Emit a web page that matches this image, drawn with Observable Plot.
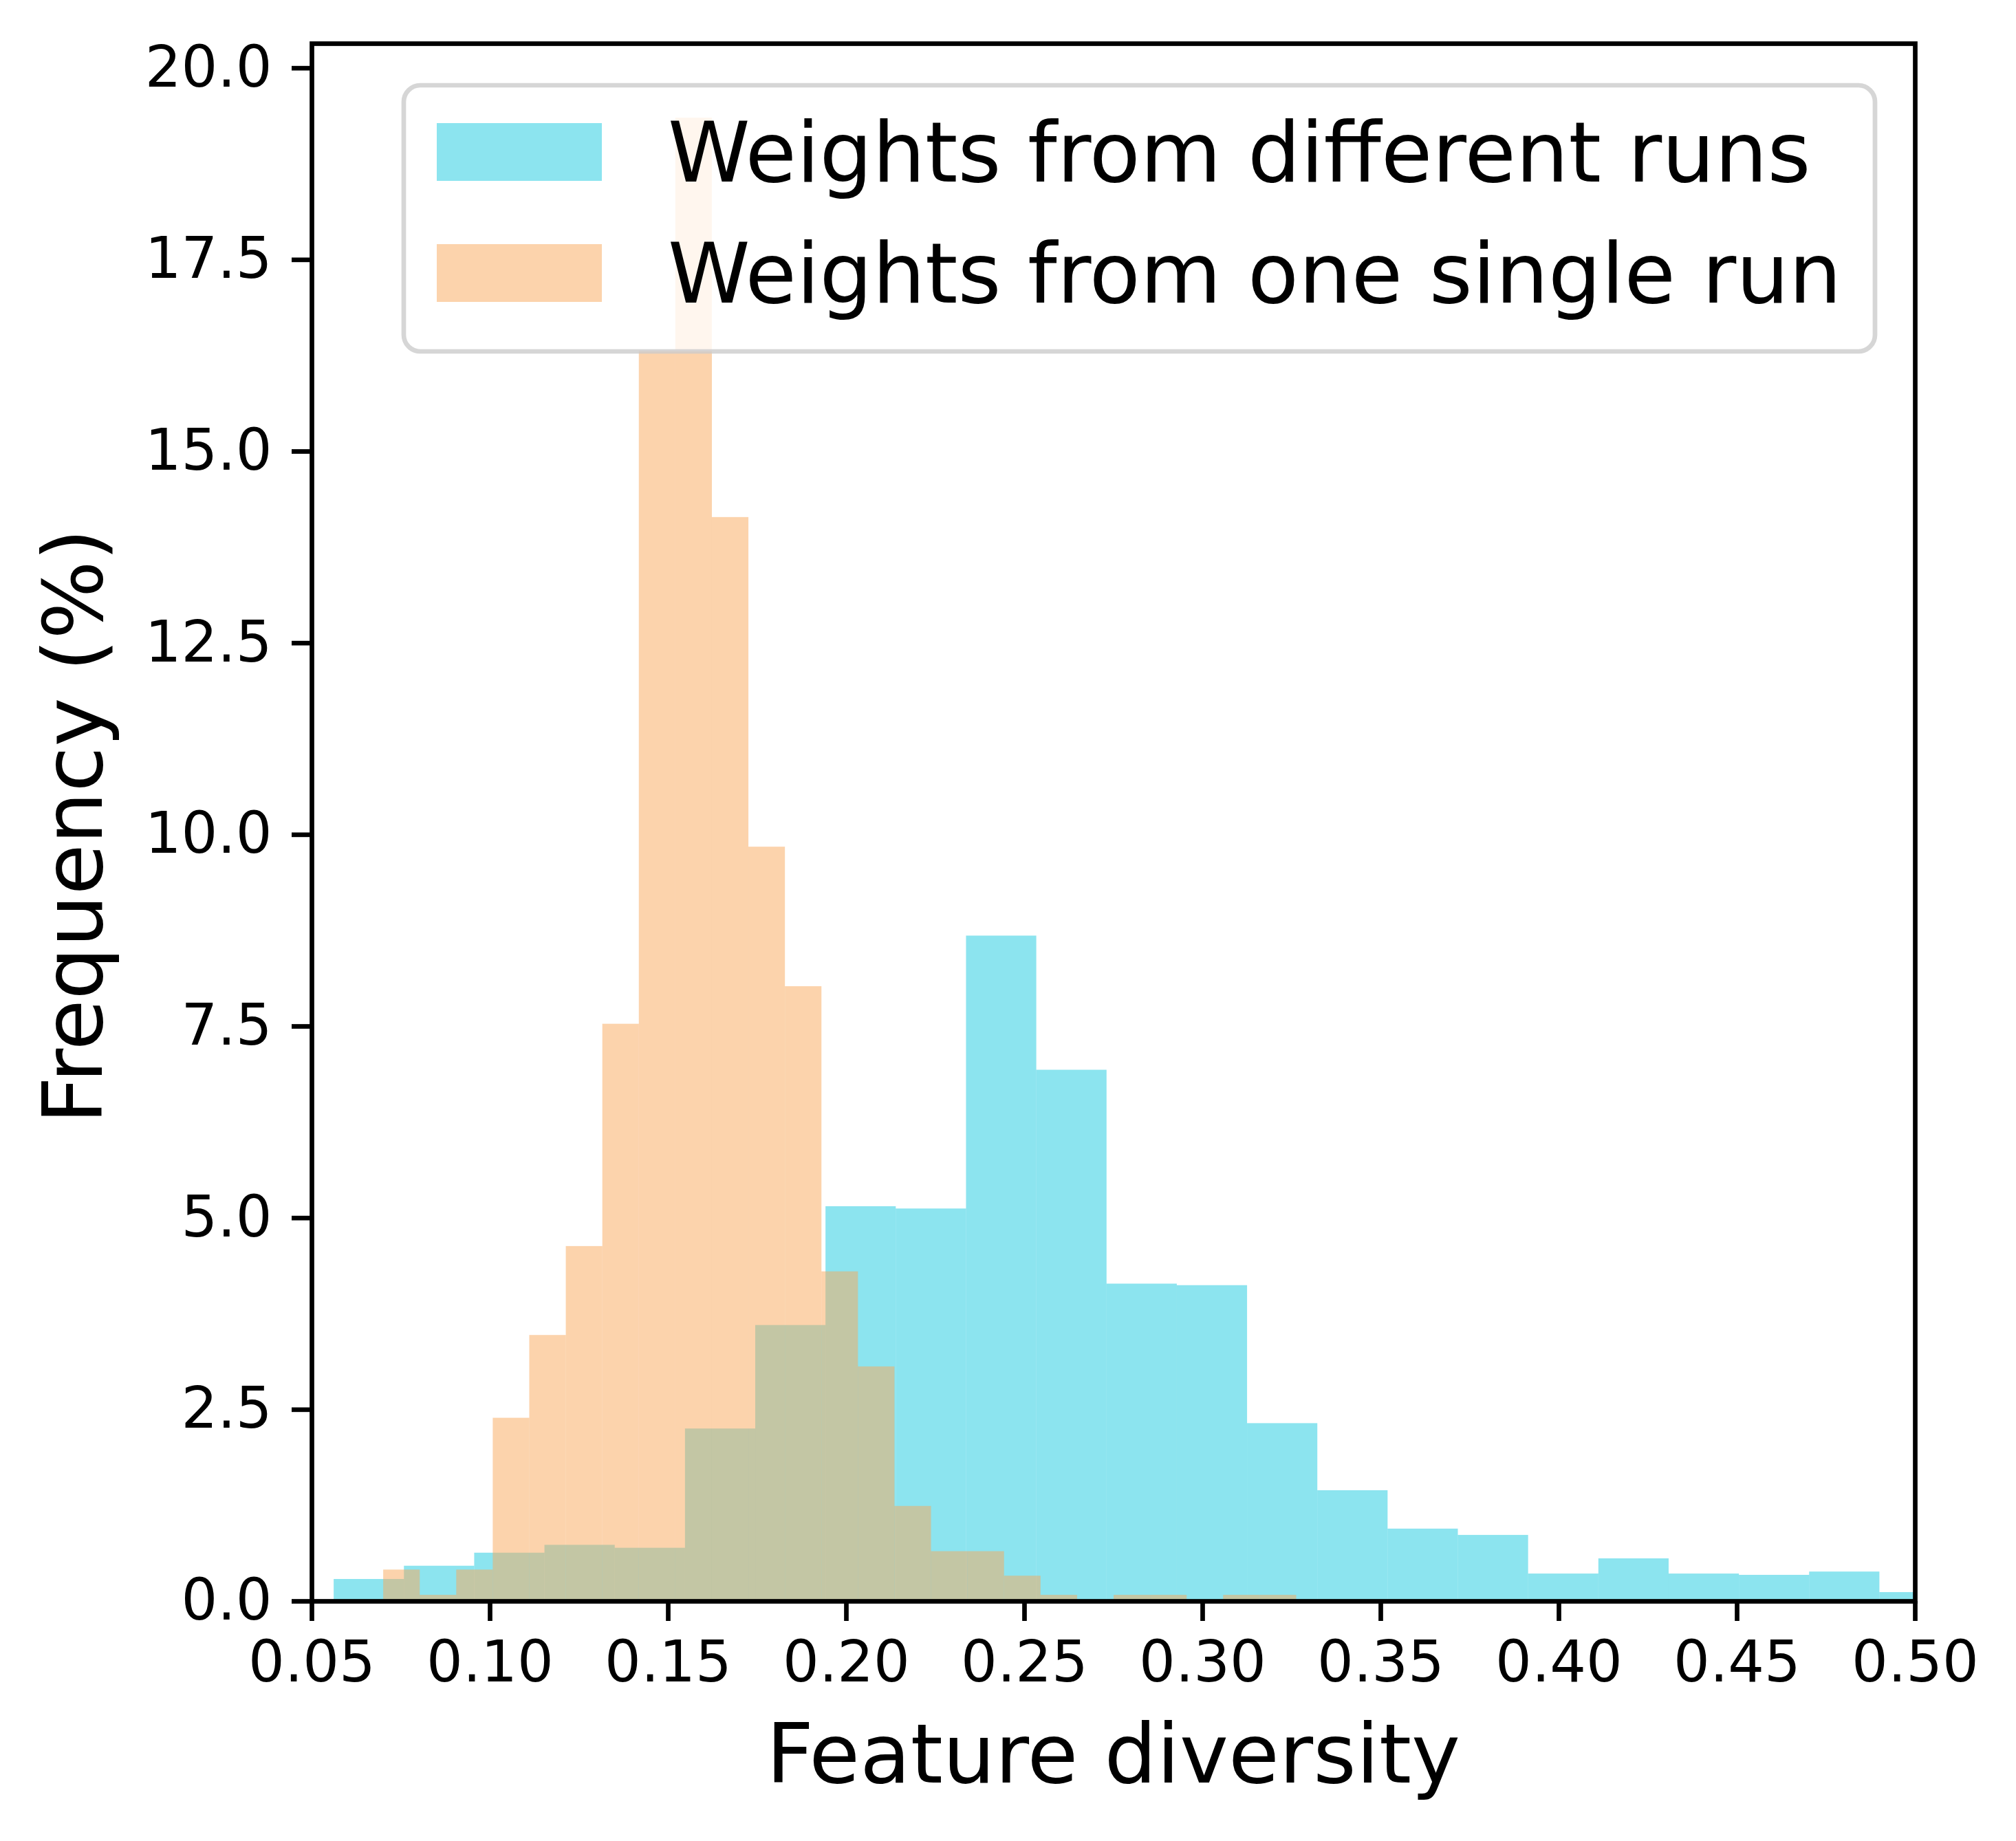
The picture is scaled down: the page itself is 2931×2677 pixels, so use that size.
<!DOCTYPE html>
<html>
<head>
<meta charset="utf-8">
<script src="https://cdn.jsdelivr.net/npm/d3@7"></script>
<script src="https://cdn.jsdelivr.net/npm/@observablehq/plot@0.6"></script>
<style>
  html, body { margin: 0; padding: 0; background: #ffffff; }
  svg { display: block; }
</style>
</head>
<body>
<div id="chart"></div>
<script>
// ---- data ----
const xTicks = [0.05, 0.10, 0.15, 0.20, 0.25, 0.30, 0.35, 0.40, 0.45, 0.50];
const yTicks = [0, 2.5, 5, 7.5, 10, 12.5, 15, 17.5, 20];
const seriesNames = ["Weights from different runs", "Weights from one single run"];
const xLabel = "Feature diversity";
const yLabel = "Frequency (%)";

// "different runs" histogram: uniform bins
const diffBinStart = 0.0562;
const diffBinWidth = 0.01972;
const diffValues = [0.287, 0.46, 0.63, 0.733, 0.694, 2.25, 3.60, 5.15, 5.12, 8.68, 6.93, 4.14,
                    4.12, 2.32, 1.445, 0.944, 0.862, 0.358, 0.556, 0.358, 0.341, 0.384, 0.116];

// "one single run" histogram: uniform bins
const singleBinStart = 0.0701;
const singleBinWidth = 0.01025;
const singleValues = [0.41, 0.08, 0.41, 2.39, 3.47, 4.63, 7.53, 16.32, 19.35, 14.14, 9.84, 8.02,
                      4.30, 3.06, 1.24, 0.65, 0.65, 0.33, 0.08, 0, 0.08, 0.08, 0, 0.08, 0.08];

const colors = ["#19c9df", "#f9a85a"];

// ---- build tables ----
const toBins = (start, w, vals) => vals.map((v, i) => ({x1: start + i * w, x2: start + (i + 1) * w, y0: 0, y: v}));
const diffBins = toBins(diffBinStart, diffBinWidth, diffValues);
const singleBins = toBins(singleBinStart, singleBinWidth, singleValues);

const W = 2931, H = 2677;
const ML = 453, MR = 147, MT = 63, MB = 349;
const SW = 6.7;

const plot = Plot.plot({
  width: W, height: H,
  marginLeft: ML, marginRight: MR, marginTop: MT, marginBottom: MB,
  style: {fontFamily: "'DejaVu Sans', sans-serif", fontSize: "83px", color: "black", background: "white"},
  x: {domain: [0.05, 0.5]},
  y: {domain: [0, 20.32]},
  marks: [
    Plot.rect(diffBins, {x1: "x1", x2: "x2", y1: "y0", y2: "y", fill: colors[0], fillOpacity: 0.5, clip: true}),
    Plot.rect(singleBins, {x1: "x1", x2: "x2", y1: "y0", y2: "y", fill: colors[1], fillOpacity: 0.5, clip: true}),
    Plot.frame({stroke: "black", strokeWidth: SW}),
    Plot.axisX({ticks: xTicks, tickFormat: d => d.toFixed(2), tickSize: 29, tickPadding: 29,
                strokeWidth: SW, label: null, fontSize: 83}),
    Plot.axisY({ticks: yTicks, tickFormat: d => d.toFixed(1), tickSize: 29, tickPadding: 29,
                strokeWidth: SW, label: null, fontSize: 83})
  ]
});

document.getElementById("chart").appendChild(plot);

const svg = d3.select(plot);
const font = "'DejaVu Sans', sans-serif";

// axis labels
svg.append("text")
  .attr("x", (ML + (W - MR)) / 2).attr("y", 2592)
  .attr("text-anchor", "middle").attr("font-family", font).attr("font-size", 120)
  .attr("fill", "black").text(xLabel);
svg.append("text")
  .attr("transform", `translate(148, ${(MT + (H - MB)) / 2 + 6}) rotate(-90)`)
  .attr("text-anchor", "middle").attr("font-family", font).attr("font-size", 120)
  .attr("fill", "black").text(yLabel);

// legend
const lg = svg.append("g");
lg.append("rect")
  .attr("x", 587).attr("y", 124).attr("width", 2726 - 587).attr("height", 511 - 124)
  .attr("rx", 24).attr("ry", 24)
  .attr("fill", "white").attr("fill-opacity", 0.8)
  .attr("stroke", "#cccccc").attr("stroke-opacity", 0.8).attr("stroke-width", SW);
seriesNames.forEach((name, i) => {
  const top = 179 + i * 176;
  lg.append("rect").attr("x", 635).attr("y", top).attr("width", 240).attr("height", 84)
    .attr("fill", colors[i]).attr("fill-opacity", 0.5);
  lg.append("text").attr("x", 971).attr("y", top + 85)
    .attr("text-anchor", "start")
    .attr("font-family", font).attr("font-size", 121).attr("fill", "black").text(name);
});
</script>
</body>
</html>
